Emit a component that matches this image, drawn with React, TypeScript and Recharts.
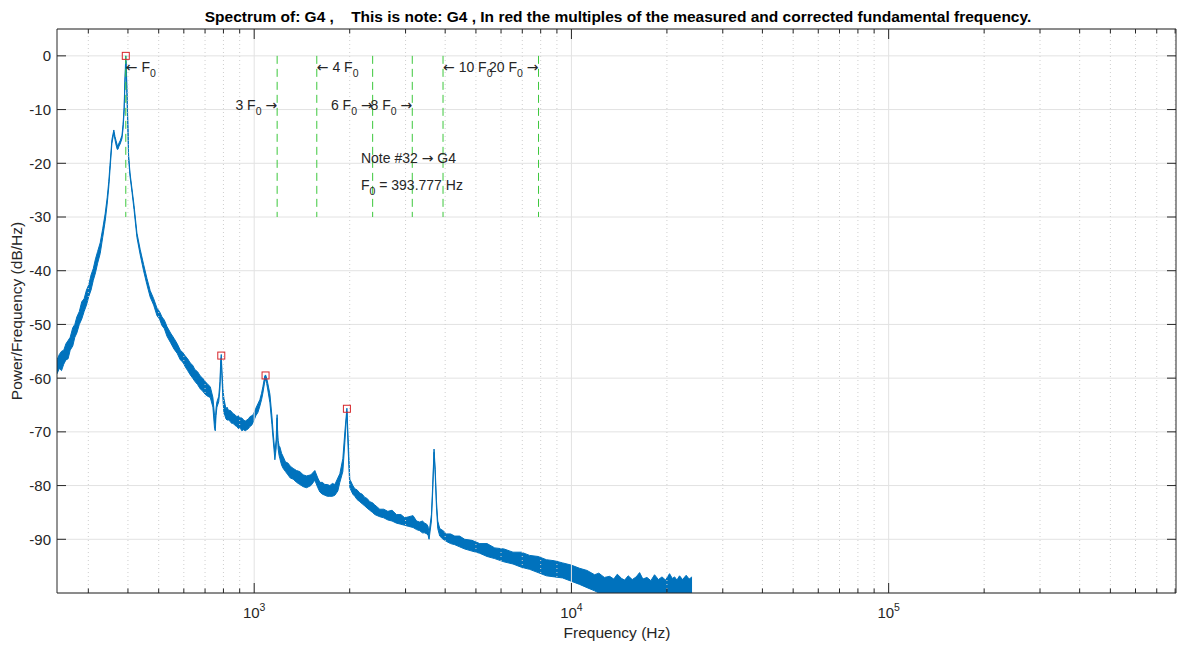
import React from "react";
import { ComposedChart, Area, Scatter, XAxis, YAxis, CartesianGrid, ReferenceLine } from "recharts";

const F0 = 393.777;

// spectrum envelope: [Hz, low dB/Hz, high dB/Hz]
const riseToF0 = [
  [239, -59.2, -56.6], [243, -58.2, -55.6], [247, -58.6, -55.0], [251, -57.4, -54.8],
  [255, -56.6, -53.6], [259, -56.4, -53.0], [263, -54.8, -52.4], [268, -54.0, -50.6],
  [272, -52.4, -50.0], [276, -51.6, -48.6], [281, -50.0, -47.6], [286, -49.0, -45.8],
  [291, -47.6, -45.2], [296, -46.4, -43.6], [301, -44.8, -42.6], [306, -43.6, -40.8],
  [311, -41.8, -39.6], [316, -40.4, -37.8], [321, -38.6, -36.4], [327, -36.8, -34.8],
  [333, -33.8, -32.2], [339, -30.8, -29.4], [344, -27.6, -26.4], [348, -24.4, -23.4],
  [351, -21.4, -20.4], [356, -16.3, -15.6], [361, -14.3, -13.8], [364, -15.6, -15.0],
  [367, -16.6, -15.8], [370, -17.4, -16.6], [372, -17.4, -16.8], [375, -16.8, -16.2],
  [378, -16.4, -15.8], [383, -15.4, -14.8], [386, -13.6, -12.8], [389, -10.4, -9.6],
  [391, -6.0, -5.0], [393.777, -1.0, 0],
];

const decayFromF0 = [
  [395.5, -3.5, -2.5], [397, -7.0, -6.0], [400, -14.0, -13.0], [402, -19.2, -18.6],
  [406, -22.4, -21.8], [412, -25.4, -24.8], [418, -28.6, -27.8], [427, -33.8, -33.0],
  [437, -37.0, -36.0], [448, -40.0, -38.8], [459, -42.6, -41.4], [470, -44.9, -43.7],
  [482, -46.4, -45.2], [494, -48.4, -47.0], [503, -49.0, -47.6], [512, -50.2, -48.6],
  [521, -50.8, -49.2], [531, -52.2, -50.4], [545, -53.4, -51.6], [559, -54.6, -52.6],
  [572, -55.4, -53.6], [585, -56.6, -54.8], [595, -57.0, -55.2], [605, -57.8, -55.8],
  [617, -58.6, -56.4], [629, -59.4, -57.2], [640, -60.0, -57.6], [650, -60.6, -58.4],
  [663, -61.2, -58.8], [676, -62.0, -59.6], [688, -62.4, -60.0], [700, -63.0, -60.6],
  [715, -63.4, -61.2], [727, -63.6, -61.6],
];

const secondPeak = [
  [741, -65.4, -63.6], [750, -69.4, -67.0], [754, -69.8, -68.4], [758, -67.0, -65.6],
  [763, -65.4, -64.4], [773, -64.4, -63.4], [780, -62.0, -60.6], [784, -58.0, -57.0],
  [787.5, -56.2, -55.6], [791, -59.5, -58.5], [797, -64.0, -62.0], [803, -66.6, -63.8],
  [809, -67.0, -64.8], [815, -67.6, -65.8], [821, -67.8, -65.4], [830, -67.8, -66.0],
  [839, -68.0, -66.0], [848, -68.4, -66.2], [857, -68.4, -66.6], [870, -68.8, -66.8],
  [882, -69.0, -67.2], [892, -69.4, -67.0], [902, -69.2, -67.4], [914, -69.8, -67.4],
  [926, -69.6, -67.8], [937, -69.8, -68.0], [948, -69.6, -67.8], [959, -69.4, -67.6],
  [969, -69.0, -67.2], [981, -68.8, -67.0], [993, -68.2, -66.8],
];

const thirdPeak = [
  [1012, -67.0, -65.6], [1027, -66.4, -64.8], [1042, -65.2, -64.0], [1055, -64.0, -62.8],
  [1065, -62.8, -61.6], [1080, -60.6, -59.6], [1086, -60.2, -59.4], [1095, -61.0, -60.0],
  [1104, -62.2, -61.0], [1121, -64.6, -63.0], [1137, -68.6, -67.0], [1148, -71.6, -70.2],
  [1162, -75.2, -73.8], [1173, -73.0, -71.4], [1178, -70.0, -68.0], [1181, -67.4, -66.8],
  [1185, -71.0, -69.6], [1190, -73.2, -71.6], [1198, -74.4, -72.6], [1205, -75.0, -72.8],
  [1220, -76.2, -74.0], [1234, -76.8, -74.6], [1255, -77.4, -75.6], [1277, -78.0, -75.8],
  [1300, -78.6, -76.4], [1327, -78.8, -76.8], [1360, -79.4, -77.2], [1392, -79.8, -77.4],
  [1427, -80.2, -78.0], [1462, -80.4, -78.2], [1509, -80.0, -78.0], [1553, -79.0, -77.2],
  [1587, -80.4, -78.6], [1611, -81.2, -79.4], [1640, -81.6, -79.4], [1670, -81.8, -79.8],
  [1700, -82.0, -79.8], [1732, -82.0, -80.0], [1764, -82.0, -79.6], [1796, -81.8, -79.8],
];

const fifthPeak = [
  [1835, -81.0, -78.6], [1862, -79.4, -77.8], [1903, -77.4, -75.0], [1931, -72.0, -70.0],
  [1960, -66.2, -65.6], [1977, -73.0, -71.0], [2002, -80.4, -78.8], [2046, -81.6, -80.0],
  [2076, -82.0, -80.6], [2110, -82.6, -80.8], [2152, -83.0, -81.4], [2190, -83.4, -81.6],
  [2232, -83.8, -82.2], [2270, -84.2, -82.4], [2314, -84.6, -83.0], [2360, -85.0, -83.2],
  [2400, -85.4, -83.6], [2488, -85.8, -84.4], [2560, -86.0, -84.4], [2638, -86.4, -84.8],
  [2720, -86.6, -84.6], [2809, -87.0, -85.4], [2900, -87.2, -85.4], [2983, -87.4, -86.0],
  [3070, -87.6, -85.8], [3168, -87.8, -85.6], [3250, -88.2, -86.6], [3326, -88.4, -86.8],
  [3390, -88.8, -86.6], [3449, -88.8, -87.0], [3500, -89.0, -87.2], [3532, -89.2, -87.6],
];

const highTail = [
  [3558, -90.0, -88.8], [3620, -86.6, -85.4], [3654, -81.0, -79.8], [3689, -73.8, -73.2],
  [3721, -78.0, -77.0], [3754, -84.0, -82.8], [3790, -88.0, -86.6], [3845, -89.4, -88.0],
  [3940, -90.0, -88.4], [4037, -90.4, -89.0], [4160, -90.8, -89.0], [4287, -91.0, -89.4],
  [4440, -91.4, -89.4], [4608, -91.8, -90.0], [4860, -92.2, -90.2], [5139, -92.6, -90.8],
  [5420, -93.2, -90.8], [5731, -93.6, -91.6], [6130, -94.2, -91.8], [6543, -94.6, -92.4],
  [6950, -95.2, -92.4], [7386, -95.6, -93.0], [7850, -96.2, -93.2], [8337, -96.8, -93.8],
  [8840, -97.0, -94.0], [9383, -97.2, -94.4], [9980, -97.8, -94.8], [10612, -98.4, -95.4],
  [11200, -99.0, -95.8], [11835, -99.6, -96.6], [12200, -100, -96.3], [12700, -100, -97.1],
  [13196, -100, -96.9], [13600, -100, -97.4], [13950, -100, -96.5], [14400, -100, -97.3],
  [14714, -100, -97.6], [15100, -100, -96.8], [15550, -100, -97.5], [16000, -100, -97.0],
  [16402, -100, -96.2], [16800, -100, -97.4], [17300, -100, -97.1], [17800, -100, -97.7],
  [18281, -100, -96.6], [18800, -100, -97.5], [19300, -100, -97.0], [19800, -100, -97.6],
  [20387, -100, -96.4], [20800, -100, -97.3], [21150, -100, -97.0], [21500, -100, -97.6],
  [21918, -100, -96.8], [22400, -100, -97.5], [23000, -100, -96.7], [23500, -100, -97.4],
  [24000, -100, -97.0],
];

// red squares: measured / corrected harmonic peaks
const peakFreqs = [F0, 787.5, 1086, 1960];
const peakDb = [0, -55.8, -59.5, -65.7];

// green dashed markers
const harmonics = [1, 3, 4, 6, 8, 10, 20];

const noteLabels = [
  { f: F0, db: -3, text: "\u2190 F_0", anchor: "start" },
  { f: 3 * F0, db: -10, text: "3 F_0 \u2192", anchor: "end" },
  { f: 4 * F0, db: -3, text: "\u2190 4 F_0", anchor: "start" },
  { f: 6 * F0, db: -10, text: "6 F_0 \u2192", anchor: "end" },
  { f: 8 * F0, db: -10, text: "8 F_0 \u2192", anchor: "end" },
  { f: 10 * F0, db: -3, text: "\u2190 10 F_0", anchor: "start" },
  { f: 20 * F0, db: -3, text: "20 F_0 \u2192", anchor: "end" },
  { f: 2170, db: -20, text: "Note #32 \u2192 G4", anchor: "start" },
  { f: 2170, db: -25, text: "F_0 = 393.777 Hz", anchor: "start" },
];

const yTicks = [-90, -80, -70, -60, -50, -40, -30, -20, -10, 0];
const decades = [1000, 10000, 100000];
const minorTicks = [
  300, 400, 500, 600, 700, 800, 900,
  2000, 3000, 4000, 5000, 6000, 7000, 8000, 9000,
  20000, 30000, 40000, 50000, 60000, 70000, 80000, 90000,
  200000, 300000, 400000, 500000, 600000, 700000, 800000,
];

const spectrum = [...riseToF0, ...decayFromF0, ...secondPeak, ...thirdPeak, ...fifthPeak, ...highTail].map(
  ([f, lo, hi]) => ({ f, range: [lo, hi] })
);
const peaks = peakFreqs.map((f, i) => ({ f, db: peakDb[i] }));
const allTicks = [...minorTicks, ...decades].sort((a, b) => a - b);

const W = 1177;
const H = 647;
const PLOT_W = 1119;
const PLOT_H = 564;
const AXIS = "#262626";
const FONT = "'Liberation Sans', Arial, Helvetica, sans-serif";
const ARROW_FONT = "'DejaVu Sans', sans-serif";
const BLUE = "#0072BD";

const XTick = (props: any) => {
  const { x, y, payload } = props;
  const v = payload.value;
  const major = decades.includes(v);
  const len = major ? 10 : 4.5;
  return (
    <g>
      <line x1={x} x2={x} y1={y} y2={y - len} stroke={AXIS} />
      <line x1={x} x2={x} y1={y - PLOT_H} y2={y - PLOT_H + len} stroke={AXIS} />
      {major && (
        <text x={x} y={y + 25} textAnchor="middle" fontSize={15} fill={AXIS} fontFamily={FONT}>
          10<tspan dy={-7} fontSize={10.5}>{Math.round(Math.log10(v))}</tspan>
        </text>
      )}
    </g>
  );
};

const YTick = (props: any) => {
  const { x, y, payload } = props;
  return (
    <g>
      <line x1={x} x2={x + 9} y1={y} y2={y} stroke={AXIS} />
      <line x1={x + PLOT_W} x2={x + PLOT_W - 9} y1={y} y2={y} stroke={AXIS} />
      <text x={x - 6} y={y} dy="0.36em" textAnchor="end" fontSize={15} fill={AXIS} fontFamily={FONT}>
        {payload.value}
      </text>
    </g>
  );
};

const Square = (props: any) => {
  const { cx, cy } = props;
  return <rect x={cx - 3.5} y={cy - 3.5} width={7} height={7} fill="none" stroke="#d7262b" strokeWidth={1} />;
};

// split "x F_0 →" into plain, arrow and subscript pieces
const pieces = (s: string) => {
  const out: { t: string; k: string }[] = [];
  let i = 0;
  while (i < s.length) {
    const c = s[i];
    if (c === "_") {
      out.push({ t: s[i + 1], k: "sub" });
      i += 2;
    } else if (c === "\u2190" || c === "\u2192") {
      out.push({ t: c, k: "arrow" });
      i += 1;
    } else {
      const last = out[out.length - 1];
      if (last && last.k === "txt") last.t += c;
      else out.push({ t: c, k: "txt" });
      i += 1;
    }
  }
  return out;
};

const NoteText = (props: any) => {
  const { cx, cy, payload } = props;
  const parts = pieces(String(payload.text));
  let shift = 0;
  return (
    <text
      x={cx}
      y={cy}
      dy="0.36em"
      textAnchor={payload.anchor}
      fontSize={14}
      fill={AXIS}
      fontFamily={FONT}
      xmlSpace="preserve"
      style={{ whiteSpace: "pre" }}
    >
      {parts.map((p, i) => {
        const want = p.k === "sub" ? 5 : 0;
        const dy = want - shift;
        shift = want;
        return (
          <tspan
            key={i}
            dy={dy}
            fontSize={p.k === "sub" ? 10.5 : 14}
            fontFamily={p.k === "arrow" ? ARROW_FONT : FONT}
          >
            {p.t}
          </tspan>
        );
      })}
    </text>
  );
};

export default function App() {
  return (
    <div style={{ position: "absolute", left: 0, top: 0, width: W, height: H, background: "#fff" }}>
      <ComposedChart
        width={W}
        height={H}
        data={spectrum}
        margin={{ top: 29, right: 1, bottom: 0, left: 0 }}
      >
        <CartesianGrid vertical={false} stroke="#e2e2e2" />
        {minorTicks.map((t) => (
          <ReferenceLine key={"m" + t} x={t} stroke="#cfcfcf" strokeDasharray="1 3" />
        ))}
        {decades.map((t) => (
          <ReferenceLine key={"d" + t} x={t} stroke="#e2e2e2" />
        ))}
        <XAxis
          dataKey="f"
          type="number"
          scale="log"
          domain={[239, 805000]}
          allowDataOverflow
          ticks={allTicks}
          interval={0}
          tickLine={false}
          tickSize={0}
          tickMargin={0}
          height={54}
          axisLine={{ stroke: AXIS }}
          tick={<XTick />}
        />
        <YAxis
          type="number"
          domain={[-100, 5]}
          allowDataOverflow
          ticks={yTicks}
          interval={0}
          tickLine={false}
          tickSize={0}
          tickMargin={0}
          width={57}
          axisLine={{ stroke: AXIS }}
          tick={<YTick />}
        />
        <ReferenceLine y={5} stroke={AXIS} />
        <ReferenceLine x={805000} stroke={AXIS} />
        <Area
          type="linear"
          dataKey="range"
          stroke={BLUE}
          strokeWidth={1}
          fill={BLUE}
          fillOpacity={1}
          dot={false}
          activeDot={false}
          isAnimationActive={false}
        />
        {harmonics.map((h) => (
          <ReferenceLine
            key={h}
            segment={[{ x: h * F0, y: 0 }, { x: h * F0, y: -30 }]}
            stroke="#3cc83c"
            strokeDasharray="8 5"
          />
        ))}
        <Scatter data={peaks} dataKey="db" shape={<Square />} isAnimationActive={false} />
        <Scatter data={noteLabels} dataKey="db" shape={<NoteText />} isAnimationActive={false} />
      </ComposedChart>
      <svg width={W} height={H} style={{ position: "absolute", left: 0, top: 0, pointerEvents: "none" }}>
        <text
          x={618}
          y={21.5}
          textAnchor="middle"
          fontSize={15.5}
          fontWeight="bold"
          fill="#000"
          fontFamily={FONT}
          xmlSpace="preserve"
          style={{ whiteSpace: "pre" }}
        >
          {"Spectrum of: G4 ,    This is note: G4 , In red the multiples of the measured and corrected fundamental frequency."}
        </text>
        <text x={617} y={638} textAnchor="middle" fontSize={15.5} fill={AXIS} fontFamily={FONT}>
          Frequency (Hz)
        </text>
        <text
          x={0}
          y={0}
          transform="translate(22 311) rotate(-90)"
          textAnchor="middle"
          fontSize={15.5}
          fill={AXIS}
          fontFamily={FONT}
        >
          Power/Frequency (dB/Hz)
        </text>
      </svg>
    </div>
  );
}
